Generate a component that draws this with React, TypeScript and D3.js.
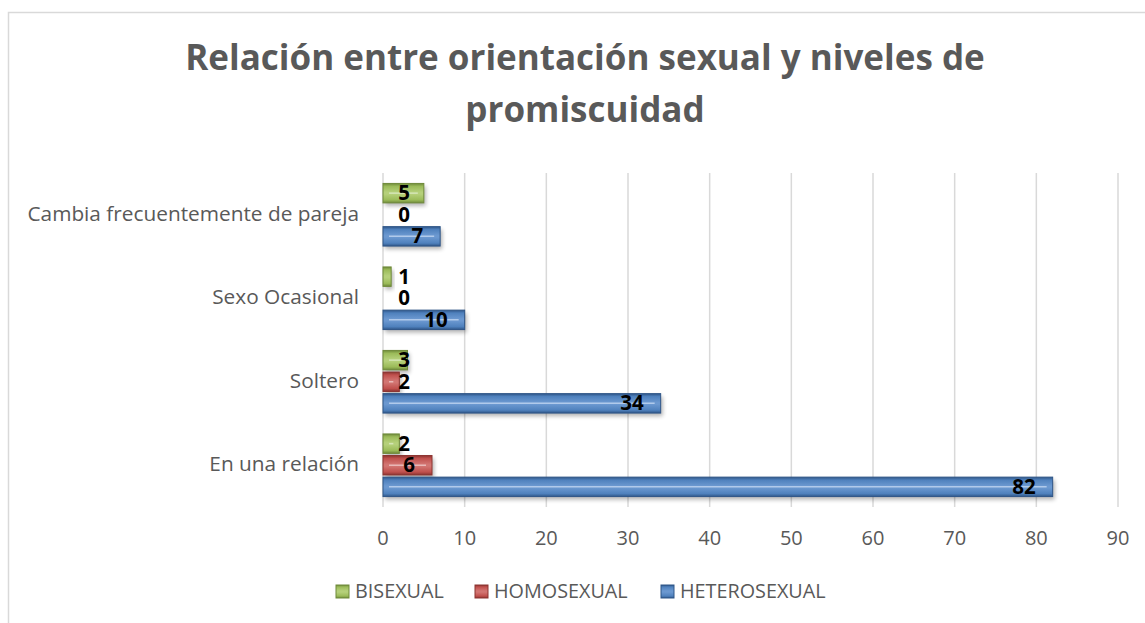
import React from "react";
import * as d3 from "d3";

const categories = ["Cambia frecuentemente de pareja", "Sexo Ocasional", "Soltero", "En una relación"];
const seriesNames = ["BISEXUAL", "HOMOSEXUAL", "HETEROSEXUAL"];
const bisexual = [5, 1, 3, 2];
const homosexual = [0, 0, 2, 6];
const heterosexual = [7, 10, 34, 82];
const xTicks = [0, 10, 20, 30, 40, 50, 60, 70, 80, 90];
const titleLines = ["Relación entre orientación sexual y niveles de", "promiscuidad"];

const seriesValues = [bisexual, homosexual, heterosexual];
const colors = [
  { base: "#9BBB59", light: "#b5d07a", dark: "#6f8a3a", line: "#d9e8bd" },
  { base: "#C0504D", light: "#d27572", dark: "#8c3431", line: "#ecc0bf" },
  { base: "#4F81BD", light: "#6b98d0", dark: "#2f5688", line: "#b9d0ee" },
];

const W = 1145;
const H = 623;
const FONT = "'Open Sans', sans-serif";
const GREY = "#595959";

export default function App() {
  const x = d3.scaleLinear().domain([0, 90]).range([383, 1118]);
  const y = d3.scaleBand().domain(categories).range([173, 507]).paddingInner(0.25).paddingOuter(0.125);
  const ys = d3.scaleBand().domain(seriesNames).range([0, y.bandwidth()]).paddingInner(0.1);

  const legendX = [336, 475, 661];

  return (
    <svg width={W} height={H} style={{ position: "absolute", left: 0, top: 0, background: "#fff" }}>
      <defs>
        {colors.map((c, i) => (
          <linearGradient key={i} id={`g${i}`} x1="0" y1="0" x2="0" y2="1">
            <stop offset="0%" stopColor={c.dark} />
            <stop offset="15%" stopColor={c.base} />
            <stop offset="45%" stopColor={c.light} />
            <stop offset="55%" stopColor={c.light} />
            <stop offset="85%" stopColor={c.base} />
            <stop offset="100%" stopColor={c.dark} />
          </linearGradient>
        ))}
        <filter id="sh" x="-20%" y="-50%" width="140%" height="200%">
          <feGaussianBlur stdDeviation="2" />
        </filter>
      </defs>
      <rect x={8.5} y={12.5} width={W + 10} height={H + 10} fill="#fff" stroke="#d9d9d9" strokeWidth={1.5} />

      {titleLines.map((t, i) => (
        <text key={i} x={585} y={70 + i * 52} textAnchor="middle" fontFamily={FONT} fontWeight="bold" fontSize={35} fill={GREY}>
          {t}
        </text>
      ))}

      {xTicks.map((t) => (
        <g key={t}>
          <line x1={x(t)} x2={x(t)} y1={173} y2={507} stroke="#d9d9d9" strokeWidth={1.5} />
          <text x={x(t)} y={545} textAnchor="middle" fontFamily={FONT} fontSize={20} fill={GREY}>
            {t}
          </text>
        </g>
      ))}

      {categories.map((c) => (
        <text key={c} x={359} y={(y(c) as number) + y.bandwidth() / 2 + 6} textAnchor="end" fontFamily={FONT} fontSize={20.8} fill={GREY}>
          {c}
        </text>
      ))}

      {categories.map((c, ci) =>
        seriesNames.map((s, si) => {
          const v = seriesValues[si][ci];
          const by = (y(c) as number) + (ys(s) as number);
          const bh = ys.bandwidth();
          const bx = x(0);
          const bw = x(v) - x(0);
          const labelX = Math.max(x(v) - 17, x(0) + 27);
          return (
            <g key={c + s}>
              {v > 0 && (
                <>
                  <rect x={bx + 2} y={by + 3} width={bw} height={bh} fill="#000" opacity={0.3} filter="url(#sh)" />
                  <rect x={bx} y={by} width={bw} height={bh} fill={`url(#g${si})`} stroke={colors[si].dark} strokeWidth={1} />
                  {bw > 12 && (
                    <line x1={bx + 6} x2={bx + bw - 6} y1={by + bh / 2} y2={by + bh / 2} stroke={colors[si].line} strokeWidth={1.5} opacity={0.9} />
                  )}
                </>
              )}
              <text x={labelX} y={by + bh / 2 + 7} textAnchor="end" fontFamily={FONT} fontWeight="bold" fontSize={20.5} fill="#000">
                {v}
              </text>
            </g>
          );
        })
      )}

      {seriesNames.map((s, i) => (
        <g key={s}>
          <rect x={legendX[i]} y={585} width={13} height={13} fill={`url(#g${i})`} stroke={colors[i].dark} strokeWidth={1} />
          <text x={legendX[i] + 19} y={598} fontFamily={FONT} fontSize={19.8} fill={GREY}>
            {s}
          </text>
        </g>
      ))}
    </svg>
  );
}
